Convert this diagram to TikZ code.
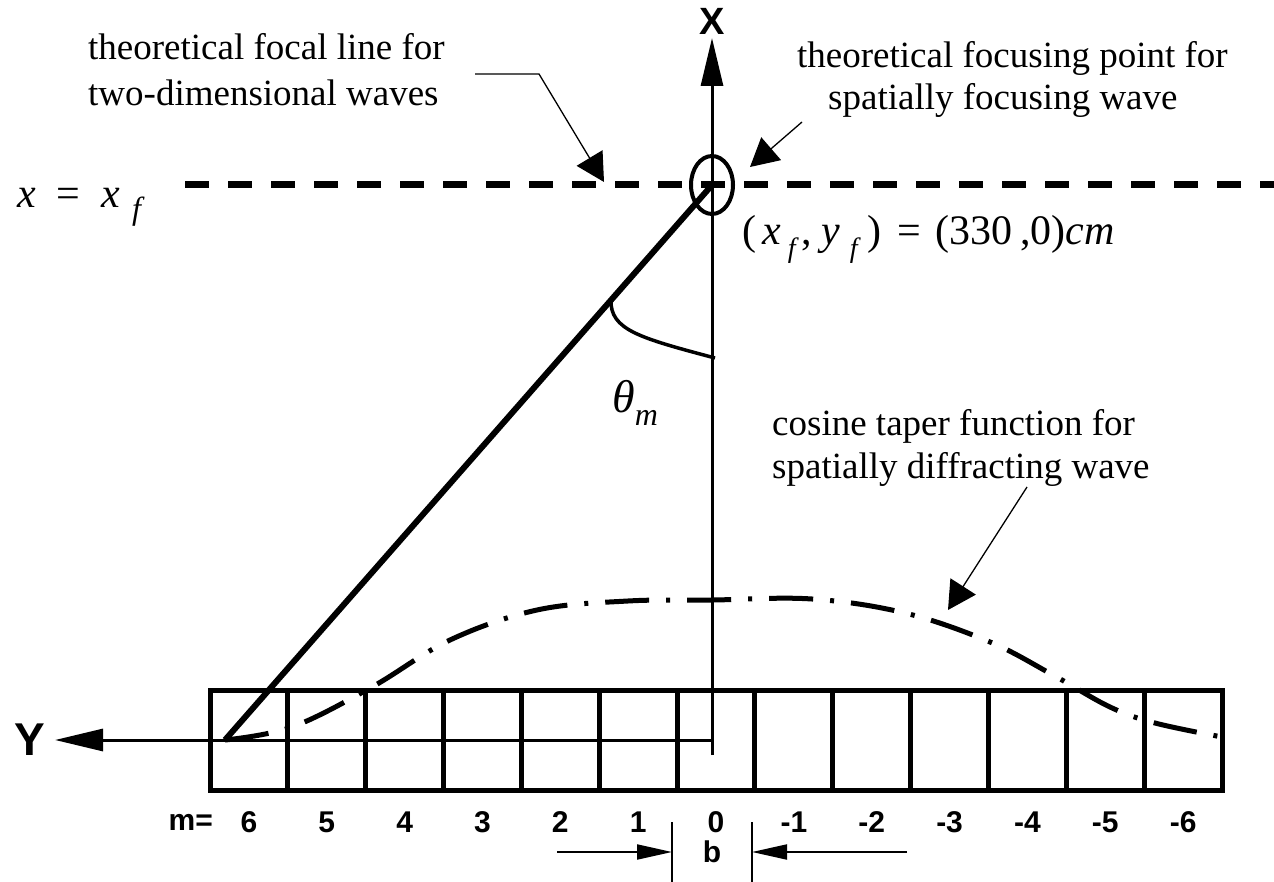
\documentclass[tikz,border=0pt]{standalone}
\usepackage{fontspec}
\setmainfont{Liberation Serif}
\newfontfamily\axfont{Liberation Sans}
\usetikzlibrary{arrows.meta,positioning}

\begin{document}
\begin{tikzpicture}[x=1pt,y=-1pt,every node/.style={inner sep=0pt},
  txt/.style={font=\fontsize{37}{45}\selectfont,anchor=base west},
  mth/.style={font=\fontsize{42}{45}\selectfont\itshape,anchor=base west},
  lbl/.style={font=\axfont\bfseries\fontsize{30}{30}\selectfont},
  cell/.style={draw,line width=5pt,minimum width=77.85pt,minimum height=100pt},
  axis/.style={line width=3pt,-{Triangle[length=48pt,width=22pt]}},
  lead/.style={line width=1.3pt,-{Triangle[length=28pt,width=30pt]}},
  dimarr/.style={line width=2pt,-{Triangle[length=35pt,width=15pt]}}]
\useasboundingbox (0,0) rectangle (1274,882);
% element strip and m labels
\foreach \m [count=\k from 0] in {6,5,4,3,2,1,0,-1,-2,-3,-4,-5,-6} {
  \node[cell] (cell\k) at ({210+77.85*(\k+0.5)},740) {};
  \node[lbl] (m\k) at ({210+77.85*(\k+0.5)},822) {\m};
}
\node[lbl,anchor=east] (meq) at (213,822) {m=};
% axes
\coordinate (O) at (712,740);
\coordinate (xbot) at (712,755);
\coordinate (xtip) at (712,38);
\coordinate (ytip) at (55,740);
\draw[axis] (xbot) -- (xtip);
\draw[axis] (O) -- (ytip);
\node[lbl,font=\axfont\bfseries\fontsize{38}{38}\selectfont] (X) at (712,21) {X};
\node[lbl,font=\axfont\bfseries\fontsize{46}{46}\selectfont] (Y) at (30,740) {Y};
% focal line and focus
\coordinate (F) at (712,185);
\coordinate (P) at (225,740);
\coordinate (fl0) at (185,185);
\coordinate (fl1) at (1274,185);
\draw[line width=7pt,dash pattern=on 24pt off 19pt] (fl0) -- (fl1);
\draw[line width=4pt] (F) ellipse[x radius=21pt,y radius=29pt];
\draw[line width=6pt] (F) -- (P);
\node[mth] (xeq) at (17,208) {x\hspace{21pt}{\upshape=}\hspace{21pt}x\hspace{12pt}\raisebox{-12pt}{\fontsize{32}{32}\selectfont f}};
% angle theta_m
\coordinate (a0) at (611,300);
\coordinate (a1) at (715,358);
\draw[line width=3.5pt] (a0) .. controls (610,330) and (640,338) .. (a1);
\node[mth,font=\fontsize{46}{46}\selectfont\itshape] (theta) at (612,412) {θ\raisebox{-0.3em}{\fontsize{32}{32}\selectfont m}};
% cosine taper
\draw[line width=5pt,dash pattern=on 44pt off 17pt on 4pt off 17pt] plot[smooth,tension=0.6] coordinates {
  (225,740) (292,727) (372,687) (450,640) (537,610) (628,601) (712,600) (812,599)
  (905,613) (990,642) (1053,675) (1110,707) (1155,723) (1222,737)};
% notes
\node[txt] (focal1) at (88,60) {theoretical focal line for};
\node[txt] (focal2) at (88,106) {two-dimensional waves};
\coordinate (l0) at (475,74);
\coordinate (l1) at (539,74);
\coordinate (l2) at (604,182);
\draw[lead] (l0) -- (l1) -- (l2);
\node[txt] (focus1) at (797,68) {theoretical focusing point for};
\node[txt] (focus2) at (828,110) {spatially focusing wave};
\coordinate (f0) at (802,122);
\coordinate (f1) at (750,167);
\draw[lead] (f0) -- (f1);
\node[txt,font=\fontsize{42}{45}\selectfont] (xf) at (742,245) {(\hspace{6pt}\textit{x}\hspace{7pt}\raisebox{-0.3em}{\fontsize{28}{28}\selectfont\itshape f}\hspace{6pt},\hspace{9pt}\textit{y}\hspace{10pt}\raisebox{-0.3em}{\fontsize{28}{28}\selectfont\itshape f}\hspace{10pt})\hspace{16pt}=\hspace{14pt}(330\hspace{8pt},0)\textit{cm}};
\node[txt] (cos1) at (772,435) {cosine taper function for};
\node[txt] (cos2) at (772,478) {spatially diffracting wave};
\coordinate (c0) at (1027,487);
\coordinate (c1) at (948,610);
\draw[lead] (c0) -- (c1);
% element width b
\coordinate (b0) at (557,852);
\coordinate (b1) at (672,852);
\coordinate (b2) at (752,852);
\coordinate (b3) at (907,852);
\draw[line width=2pt] (672,822) -- (672,882);
\draw[line width=2pt] (752,822) -- (752,882);
\draw[dimarr] (b0) -- (b1);
\draw[dimarr] (b3) -- (b2);
\node[lbl] (b) at (712,852) {b};
\end{tikzpicture}
\end{document}
